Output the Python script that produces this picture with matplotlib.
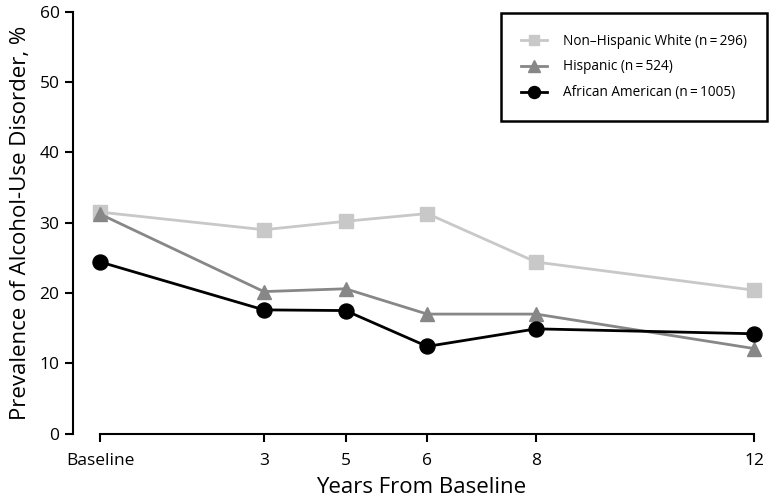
import numpy as np
import matplotlib.pyplot as plt

# years from baseline (x position) and the labels shown on the axis
years = [0, 3, 4.5, 6, 8, 12]
year_labels = ["Baseline", "3", "5", "6", "8", "12"]

# prevalence of alcohol-use disorder, %
nh_white = [31.5, 29.0, 30.2, 31.3, 24.4, 20.4]
hispanic = [31.2, 20.2, 20.6, 17.0, 17.0, 12.1]
african_american = [24.4, 17.6, 17.5, 12.4, 14.9, 14.2]

series_labels = ["Non\u2013Hispanic White (n\u2009=\u2009296)",
                 "Hispanic (n\u2009=\u2009524)",
                 "African American (n\u2009=\u20091005)"]

plt.rcParams['font.family'] = ['Open Sans', 'DejaVu Sans']

fig = plt.figure(figsize=(7.75, 5.03), dpi=100)
ax = fig.add_axes([0.0938, 0.138, 0.898, 0.8385])

ax.plot(years, nh_white, color="#c8c8c8", lw=2.0, marker="s", ms=9.5,
        label=series_labels[0], zorder=3)
ax.plot(years, hispanic, color="#878787", lw=2.0, marker="^", ms=10.5,
        label=series_labels[1], zorder=4)
ax.plot(years, african_american, color="black", lw=2.0, marker="o", ms=10.8,
        label=series_labels[2], zorder=5)

ax.set_xlim(-0.51, 12.27)
ax.set_ylim(0, 60)
ax.set_xticks(years)
ax.set_xticklabels(year_labels)
ax.set_yticks(np.arange(0, 61, 10))

for side in ["top", "right"]:
    ax.spines[side].set_visible(False)
ax.spines["bottom"].set_bounds(0, 12)
ax.spines["left"].set_linewidth(1.5)
ax.spines["bottom"].set_linewidth(1.5)
ax.tick_params(direction="out", length=6, width=1.5, labelsize=12.5)
ax.tick_params(axis="x", pad=8)

ax.set_xlabel("Years From Baseline", fontsize=16, labelpad=6)
ax.set_ylabel("Prevalence of Alcohol-Use Disorder, %", fontsize=16, labelpad=6)

leg = ax.legend(loc="upper right", bbox_to_anchor=(1.0, 1.0), fontsize=9.8,
                fancybox=False, framealpha=1, borderpad=1.5, labelspacing=0.8,
                handlelength=1.85, handletextpad=1.2, markerscale=0.8,
                borderaxespad=0.1)
leg.get_frame().set_edgecolor("black")
leg.get_frame().set_linewidth(1.8)

fig.savefig("out.png", dpi=100)
